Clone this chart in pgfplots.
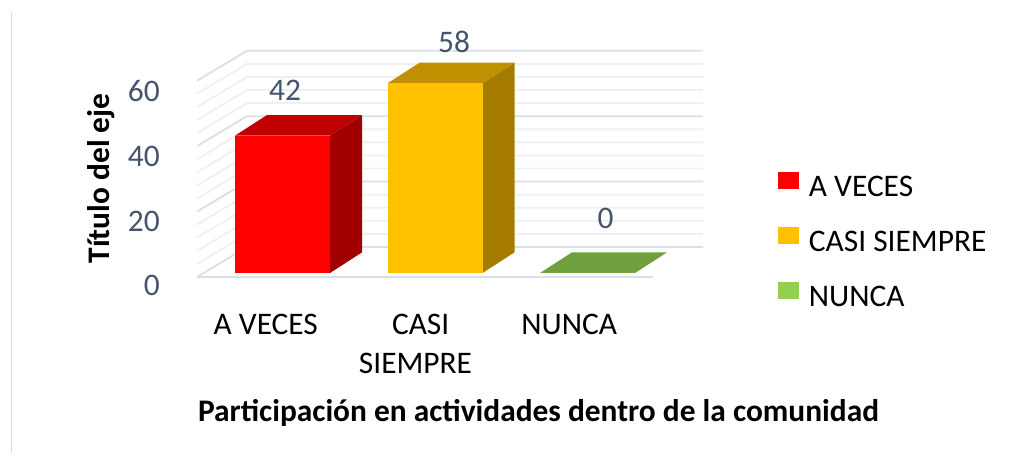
\documentclass[border=0pt]{standalone}
\usepackage{fontspec}
\setmainfont{Carlito}
\usepackage{pgfplots}
\pgfplotsset{compat=1.18}
\definecolor{lab}{HTML}{44546A}
\definecolor{gridmaj}{HTML}{DADFE8}
\definecolor{gridmin}{HTML}{EEF0F4}
\definecolor{frame}{HTML}{D6DCE5}
\definecolor{redfront}{HTML}{FF0000}
\definecolor{redtop}{HTML}{C00000}
\definecolor{redside}{HTML}{A00000}
\definecolor{yelfront}{HTML}{FFC000}
\definecolor{yeltop}{HTML}{BF9000}
\definecolor{yelside}{HTML}{A67C00}
\definecolor{grnfront}{HTML}{92D050}
\definecolor{grntop}{HTML}{6FA03D}
\pgfplotsset{sqleg/.style={legend image code/.code={\fill[##1] (0pt,-8.5pt) rectangle (21pt,8.5pt);}}}
\begin{document}
\fontsize{31.4pt}{37pt}\selectfont
\begin{tikzpicture}[x=1pt,y=1pt]
\draw[frame, line width=1.5pt] (11.5,1) -- (11.5,442);
\begin{axis}[
  at={(191pt,174.46pt)}, anchor=south west,
  x=152.5pt, y=3.27pt,
  xmin=-0.6, xmax=2.8, ymin=-2, ymax=70,
  hide axis, clip=false,
  legend cell align=left,
  legend style={at={(1.132,0.4886)}, anchor=north west, draw=none, fill=none,
    inner sep=0pt, outer sep=0pt, text=black,
    row sep=23pt, column sep=10pt,
    nodes={inner sep=0pt, text height=32pt, text depth=0pt}},
]
% gridlines (left wall + back wall)
\pgfplotsinvokeforeach{4,8,12,16,24,28,32,36,44,48,52,56}{
  \draw[gridmin, line width=1.8pt] (axis cs:-0.5607,#1-1.22) -- (axis cs:-0.2328,#1+7.95) -- (axis cs:2.757,#1+7.95);
}
\pgfplotsinvokeforeach{0,20,40,60}{
  \draw[gridmaj, line width=1.8pt] (axis cs:-0.5607,#1-1.22) -- (axis cs:-0.2328,#1+7.95) -- (axis cs:2.757,#1+7.95);
}
\draw[gridmaj, line width=1.8pt] (axis cs:-0.5607,-1.22) -- (axis cs:2.43,-1.22);
% A VECES = 42
\addplot[forget plot, fill=redside, draw=none] coordinates {(0.3115,0) (0.3115,42) (0.5213,48.3) (0.5213,6.3)};
\addplot[forget plot, fill=redtop, draw=none] coordinates {(-0.3115,42) (0.3115,42) (0.5213,48.3) (-0.1017,48.3)};
\addplot[ybar, bar width=0.623, bar shift=0pt, fill=redfront, draw=none, sqleg] coordinates {(0,42)};
\addlegendentry{A VECES}
% CASI SIEMPRE = 58
\addplot[forget plot, fill=yelside, draw=none] coordinates {(1.3115,0) (1.3115,58) (1.5213,64.3) (1.5213,6.3)};
\addplot[forget plot, fill=yeltop, draw=none] coordinates {(0.6885,58) (1.3115,58) (1.5213,64.3) (0.8983,64.3)};
\addplot[ybar, bar width=0.623, bar shift=0pt, fill=yelfront, draw=none, sqleg] coordinates {(1,58)};
\addlegendentry{CASI SIEMPRE}
% NUNCA = 0
\addplot[forget plot, fill=grntop, draw=none] coordinates {(1.6885,0) (2.3115,0) (2.5213,6.3) (1.8983,6.3)};
\addplot[ybar, bar width=0.623, bar shift=0pt, fill=grnfront, draw=none, sqleg] coordinates {(2,0)};
\addlegendentry{NUNCA}
\end{axis}
% y tick labels
\node[anchor=east, inner sep=0pt, text=lab] at (160,363) {60};
\node[anchor=east, inner sep=0pt, text=lab] at (160,298) {40};
\node[anchor=east, inner sep=0pt, text=lab] at (160,233) {20};
\node[anchor=east, inner sep=0pt, text=lab] at (160,169) {0};
% data labels
\node[inner sep=0pt, text=lab] at (285,364) {42};
\node[inner sep=0pt, text=lab] at (454,412) {58};
\node[inner sep=0pt, text=lab] at (605.5,235.5) {0};
% x tick labels
\node[anchor=base, inner sep=0pt] at (265.8,119) {A VECES};
\node[anchor=base, inner sep=0pt] at (420.7,119) {CASI};
\node[anchor=base, inner sep=0pt] at (415.5,80) {SIEMPRE};
\node[anchor=base, inner sep=0pt] at (569.2,119) {NUNCA};
% titles
\node[anchor=base, inner sep=0pt, font=\bfseries] at (538.5,32.3) {Participación en actividades dentro de la comunidad};
\node[anchor=base, inner sep=0pt, rotate=90, font=\bfseries] at (109,275.5) {Título del eje};
\pgfresetboundingbox
\path[use as bounding box] (0,0) rectangle (1032,454);
\end{tikzpicture}
\end{document}
